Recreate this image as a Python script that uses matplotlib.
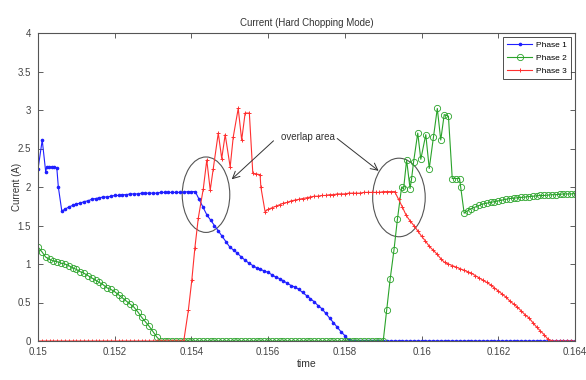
import numpy as np
import matplotlib
matplotlib.use("Agg")
import matplotlib.pyplot as plt
from matplotlib.patches import Ellipse
from matplotlib.ticker import FixedLocator, FuncFormatter

plt.rcParams['font.family'] = ['Liberation Sans', 'DejaVu Sans']


def grid(a, b):
    return np.round(np.arange(round(a * 1e4), round(b * 1e4) + 1) * 1e-4, 5)

# ---------------- Phase 1 (blue) ----------------
p1_chop_t = [0.15000, 0.15011, 0.15020, 0.15023, 0.15029, 0.15037, 0.15043, 0.15049, 0.15053, 0.15062]
p1_chop_y = [2.23, 2.61, 2.20, 2.26, 2.26, 2.26, 2.26, 2.25, 2.00, 1.69]
p1_rise_y = [1.71, 1.74, 1.76, 1.78, 1.79, 1.81, 1.82, 1.84, 1.85, 1.86,
             1.87, 1.87, 1.88, 1.89, 1.89, 1.90, 1.90, 1.91, 1.91, 1.91,
             1.92, 1.92, 1.92, 1.92, 1.92, 1.93, 1.93, 1.93, 1.93, 1.93,
             1.93, 1.93, 1.94, 1.94, 1.94]                      # 0.1507 .. 0.1541
p1_fall_y = [1.84, 1.74, 1.64, 1.57, 1.50, 1.43, 1.36, 1.29, 1.22, 1.18,
             1.14, 1.09, 1.05, 1.01, 0.98, 0.95, 0.93, 0.91, 0.89, 0.86,
             0.83, 0.81, 0.78, 0.75, 0.72, 0.70, 0.67, 0.63, 0.59, 0.55,
             0.51, 0.46, 0.42, 0.36, 0.30, 0.24, 0.18, 0.12, 0.07, 0.01,
             0.00]                                              # 0.1542 .. 0.1582
p1_zero_y = [0] * 58                                            # 0.1583 .. 0.1640

# ---------------- Phase 2 (green) ----------------
p2_fall_y = [1.22, 1.16, 1.09, 1.06, 1.04, 1.03, 1.01, 1.00, 0.98, 0.95,
             0.93, 0.90, 0.88, 0.85, 0.82, 0.79, 0.76, 0.73, 0.69, 0.67,
             0.64, 0.60, 0.56, 0.52, 0.48, 0.44, 0.38, 0.31, 0.25, 0.19,
             0.12, 0.05, 0.00]                                  # 0.1500 .. 0.1532
p2_zero_y = [0] * 58                                            # 0.1533 .. 0.1590
p2_chop_t = [0.15909, 0.15918, 0.15928, 0.15937, 0.15948, 0.15953, 0.15961, 0.15970,
             0.15974, 0.15979, 0.15990, 0.15998, 0.16011, 0.16020, 0.16031, 0.16041,
             0.16050, 0.16059, 0.16070, 0.16080, 0.16090, 0.16099, 0.16102, 0.16111]
p2_chop_y = [0.40, 0.80, 1.18, 1.58, 2.00, 1.97, 2.35, 1.98,
             2.11, 2.32, 2.70, 2.36, 2.68, 2.24, 2.65, 3.02,
             2.61, 2.94, 2.92, 2.11, 2.11, 2.11, 2.00, 1.66]
p2_rise_y = [1.69, 1.72, 1.74, 1.76, 1.78, 1.79, 1.80, 1.81, 1.82, 1.83,
             1.84, 1.85, 1.855, 1.86, 1.865, 1.87, 1.875, 1.88, 1.885, 1.89,
             1.89, 1.895, 1.90, 1.90, 1.905, 1.91, 1.91, 1.91, 1.915]   # 0.1612 .. 0.1640

# ---------------- Phase 3 (red) ----------------
p3_zero1_y = [0] * 39                                           # 0.1500 .. 0.1538
p3_chop_t = [0.15392, 0.15401, 0.15409, 0.15418, 0.15431, 0.15440, 0.15449, 0.15457,
             0.15470, 0.15479, 0.15488, 0.15501, 0.15509, 0.15522, 0.15531, 0.15540,
             0.15551, 0.15560, 0.15568, 0.15579, 0.15581, 0.15592]
p3_chop_y = [0.40, 0.79, 1.21, 1.60, 1.98, 2.35, 1.96, 2.24,
             2.70, 2.37, 2.68, 2.26, 2.65, 3.02, 2.61, 2.96,
             2.96, 2.18, 2.17, 2.16, 2.00, 1.68]
p3_rise_y = [1.71, 1.73, 1.75, 1.77, 1.79, 1.80, 1.82, 1.83, 1.84, 1.85,
             1.86, 1.87, 1.88, 1.88, 1.89, 1.89, 1.90, 1.90, 1.91, 1.91,
             1.91, 1.92, 1.92, 1.92, 1.92, 1.93, 1.93, 1.93, 1.93, 1.93,
             1.94, 1.94, 1.94, 1.94]                            # 0.1560 .. 0.1593
p3_fall_y = [1.84, 1.74, 1.63, 1.56, 1.50, 1.43, 1.36, 1.30, 1.23, 1.18,
             1.13, 1.07, 1.02, 1.00, 0.98, 0.96, 0.94, 0.92, 0.90, 0.88,
             0.85, 0.82, 0.79, 0.76, 0.73, 0.69, 0.65, 0.61, 0.57, 0.52,
             0.48, 0.44, 0.39, 0.34, 0.30, 0.24, 0.18, 0.13, 0.08, 0.02]  # 0.1594 .. 0.1633
p3_zero2_y = [0] * 7                                            # 0.1634 .. 0.1640

t1 = np.concatenate([p1_chop_t, grid(0.1507, 0.1541), grid(0.1542, 0.1582), grid(0.1583, 0.1640)])
y1 = np.concatenate([p1_chop_y, p1_rise_y, p1_fall_y, p1_zero_y])
t2 = np.concatenate([grid(0.1500, 0.1532), grid(0.1533, 0.1590), p2_chop_t, grid(0.1612, 0.1640)])
y2 = np.concatenate([p2_fall_y, p2_zero_y, p2_chop_y, p2_rise_y])
t3 = np.concatenate([grid(0.1500, 0.1538), p3_chop_t, grid(0.1560, 0.1593), grid(0.1594, 0.1633), grid(0.1634, 0.1640)])
y3 = np.concatenate([p3_zero1_y, p3_chop_y, p3_rise_y, p3_fall_y, p3_zero2_y])
assert len(t1) == len(y1) and len(t2) == len(y2) and len(t3) == len(y3)

x_ticks = [0.150, 0.152, 0.154, 0.156, 0.158, 0.160, 0.162, 0.164]
y_ticks = [0, 0.5, 1, 1.5, 2, 2.5, 3, 3.5, 4]

fig = plt.figure(figsize=(5.86, 3.80), dpi=100)
ax = fig.add_axes([38 / 586, 39 / 380, (575 - 38) / 586, (341 - 33) / 380])

ax.plot(t1, y1, color='#1f1fff', lw=0.8, marker='.', ms=3.2, label='Phase 1')
ax.plot(t2, y2, color='#2aa32a', lw=0.8, marker='o', ms=4.5, mfc='none', mew=0.6, label='Phase 2')
ax.plot(t3, y3, color='#ff3030', lw=0.8, marker='+', ms=3.5, mew=0.7, label='Phase 3')

ax.set_xlim(0.150, 0.164)
ax.set_ylim(0, 4)
ax.xaxis.set_major_locator(FixedLocator(x_ticks))
ax.yaxis.set_major_locator(FixedLocator(y_ticks))
ax.xaxis.set_major_formatter(FuncFormatter(lambda v, p: f"{v:g}"))
ax.yaxis.set_major_formatter(FuncFormatter(lambda v, p: f"{v:g}"))
ax.tick_params(direction='in', top=True, right=True, length=3.5, width=0.6,
               labelsize=7, colors='#444444')
ax.tick_params(axis='x', pad=4.5)
ax.tick_params(axis='y', pad=5)
for s in ax.spines.values():
    s.set_color('#555555')
    s.set_linewidth(0.8)

ax.set_title('Current (Hard Chopping Mode)', fontsize=7, color='#333333', pad=5)
ax.set_xlabel('time', fontsize=7.5, color='#333333', labelpad=1)
ax.set_ylabel('Current (A)', fontsize=7, color='#333333')
ax.yaxis.set_label_coords(-0.03, 0.5)

ax.add_patch(Ellipse((0.15438, 1.90), 0.00124, 0.98, fill=False, ec='#555555', lw=0.8))
ax.add_patch(Ellipse((0.15941, 1.864), 0.00137, 1.02, fill=False, ec='#555555', lw=0.8))
ax.text(0.15703, 2.65, 'overlap area', fontsize=7, color='#333333', ha='center', va='center')
arrowprops = dict(arrowstyle='->,head_length=0.5,head_width=0.25', color='#333333', lw=0.7,
                  shrinkA=0, shrinkB=0)
ax.annotate('', xy=(0.15505, 2.10), xytext=(0.15614, 2.60), arrowprops=arrowprops)
ax.annotate('', xy=(0.15888, 2.21), xytext=(0.15780, 2.63), arrowprops=arrowprops)

leg = ax.legend(loc='upper right', fontsize=6, frameon=True, fancybox=False,
                edgecolor='#222222', borderpad=0.5, labelspacing=0.6,
                handlelength=3.0, handletextpad=0.4, borderaxespad=0.5)
leg.get_frame().set_linewidth(0.7)

fig.savefig('out.png', dpi=100)
